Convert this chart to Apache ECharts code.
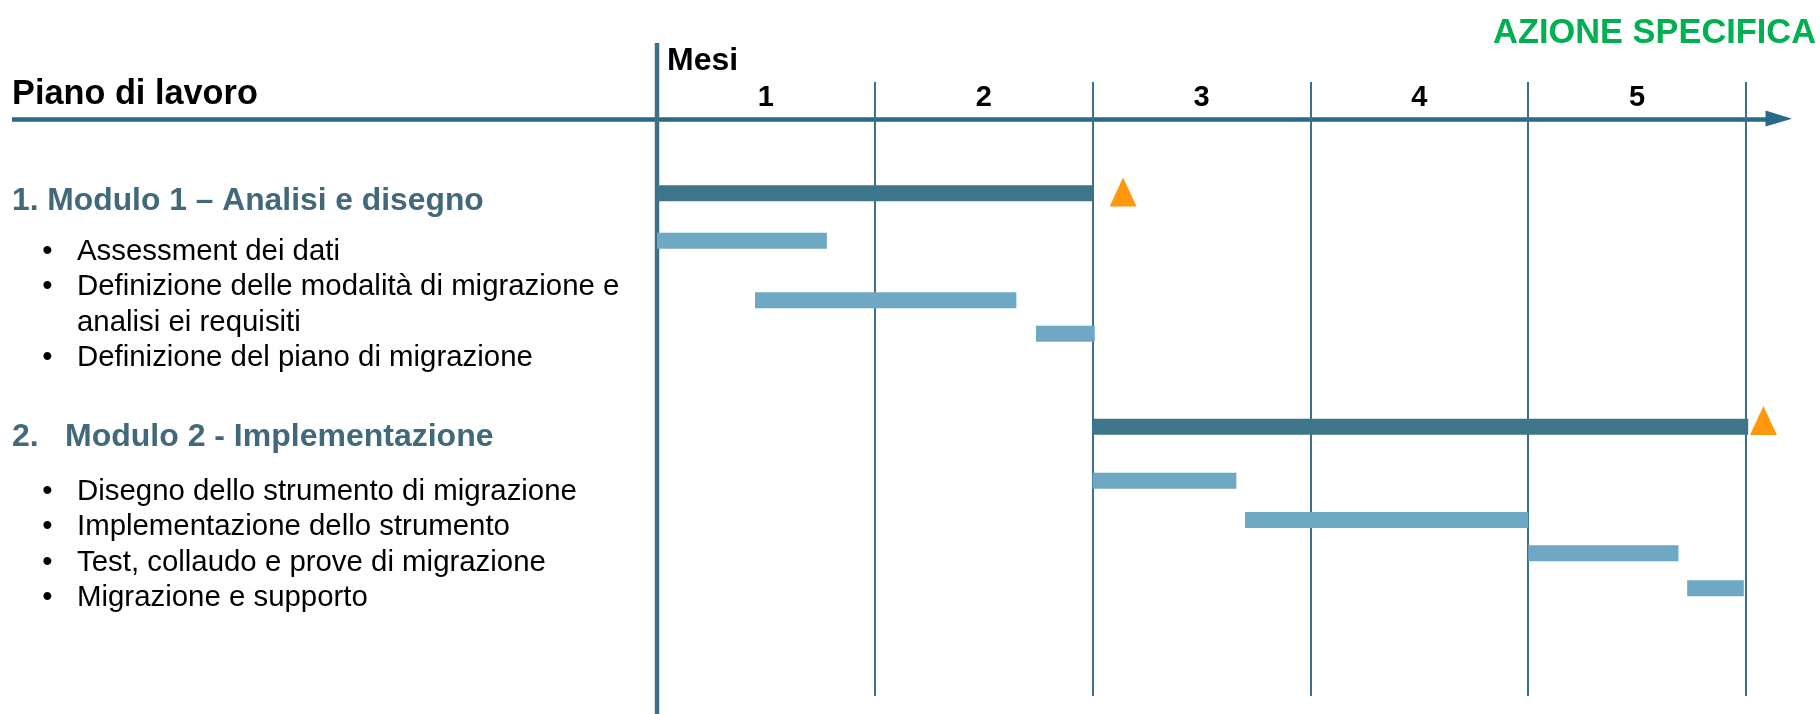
<!DOCTYPE html>
<html>
<head>
<meta charset="utf-8">
<title>Piano di lavoro</title>
<script src="https://cdn.jsdelivr.net/npm/echarts@6/dist/echarts.min.js"></script>
<style>
  html, body { margin: 0; padding: 0; background: #fff; }
  #chart { width: 1820px; height: 714px; }
</style>
</head>
<body>
<div id="chart"></div>
<script>
// mesi sull'asse orizzontale
const mesi = ['1', '2', '3', '4', '5'];

// barre: inizio e fine in mesi, riga sull'asse verticale (nascosto)
const nomiBarre = ['Modulo 1', 'Assessment dei dati', 'Definizione modalità', 'Definizione piano',
  'Modulo 2', 'Disegno strumento', 'Implementazione strumento', 'Test e collaudo', 'Migrazione e supporto'];
const inizio = [0, 0, 0.45, 1.74, 2.0, 2.0, 2.7, 4.0, 4.73];
const fine = [2.0, 0.78, 1.65, 2.01, 5.01, 2.66, 4.0, 4.69, 4.99];
const riga = [3.62, 5.17, 7.11, 8.2, 11.23, 12.99, 14.27, 15.35, 16.49];
const livello = [0, 1, 1, 1, 0, 1, 1, 1, 1]; // 0 = modulo, 1 = attività

// milestone (triangoli arancioni)
const milestoneMese = [2.14, 5.08];
const milestoneRiga = [3.58, 11.03];

// testi a sinistra
const titoloModulo1 = '1. Modulo 1 – Analisi e disegno';
const titoloModulo2 = 'Modulo 2 - Implementazione';
const attivitaModulo1 = ['Assessment dei dati', 'Definizione delle modalità di migrazione e\nanalisi ei requisiti',
  'Definizione del piano di migrazione'];
const attivitaModulo2 = ['Disegno dello strumento di migrazione', 'Implementazione dello strumento',
  'Test, collaudo e prove di migrazione', 'Migrazione e supporto'];

const FONT = "'Liberation Sans', Arial, sans-serif";
const LINEA = '#3b7088';
const RIGA_TESTO = 35.3;

const chart = echarts.init(document.getElementById('chart'));

function testo(str, x, y, size, weight, color, align) {
  return {
    type: 'text', x: x, y: y, silent: true,
    style: {
      text: str, fill: color, fontSize: size, fontWeight: weight, fontFamily: FONT,
      align: align || 'left', textAlign: align || 'left',
      verticalAlign: 'middle', textVerticalAlign: 'middle'
    }
  };
}

// elenco puntato, parte dalla baseline della prima riga
function elenco(voci, baseline) {
  const out = [];
  let top = baseline - 7.5 - RIGA_TESTO / 2;
  voci.forEach(v => {
    const righe = v.split('\n').length;
    out.push({
      type: 'text', x: 47.5, y: top, silent: true,
      style: { text: '•', fill: '#000', fontSize: 29.4, fontFamily: FONT, lineHeight: RIGA_TESTO,
        align: 'center', textAlign: 'center', verticalAlign: 'top', textVerticalAlign: 'top' }
    });
    out.push({
      type: 'text', x: 77, y: top, silent: true,
      style: { text: v, fill: '#000', fontSize: 29.4, fontFamily: FONT, lineHeight: RIGA_TESTO,
        align: 'left', textAlign: 'left', verticalAlign: 'top', textVerticalAlign: 'top' }
    });
    top += righe * RIGA_TESTO;
  });
  return out;
}

const grafica = [
  // asse con freccia
  { type: 'line', silent: true, shape: { x1: 12, y1: 119.5, x2: 1768, y2: 119.5 },
    style: { stroke: '#286a88', lineWidth: 4.5 } },
  { type: 'polygon', silent: true, shape: { points: [[1765.5, 110.5], [1792, 118.8], [1765.5, 126.5]] },
    style: { fill: '#286a88' } },
  // linea verticale iniziale
  { type: 'line', silent: true, shape: { x1: 657, y1: 43, x2: 657, y2: 714 },
    style: { stroke: LINEA, lineWidth: 4.5 } },
  testo('AZIONE SPECIFICA', 1816, 33.5, 34.4, 'bold', '#00b050', 'right'),
  testo('Piano di lavoro', 12, 94.7, 34.3, 'bold', '#000'),
  testo('Mesi', 667, 60.8, 32, 'bold', '#000'),
  testo(titoloModulo1, 12, 201.4, 31.8, 'bold', '#41697a'),
  testo('2.', 12, 437.4, 32, 'bold', '#41697a'),
  testo(titoloModulo2, 65, 437.4, 32, 'bold', '#41697a')
].concat(elenco(attivitaModulo1, 259.3), elenco(attivitaModulo2, 499.3));

const option = {
  animation: false,
  backgroundColor: '#fff',
  grid: { left: 657, right: 74, top: 82, bottom: 18 },
  xAxis: [
    {
      type: 'value', min: 0, max: 5, interval: 1, position: 'bottom',
      axisLine: { show: false }, axisTick: { show: false }, axisLabel: { show: false },
      splitLine: { show: true, lineStyle: { color: LINEA, width: 2 } }
    },
    {
      type: 'category', data: mesi, position: 'top', boundaryGap: true,
      axisLine: { show: false }, axisTick: { show: false }, splitLine: { show: false },
      axisLabel: {
        inside: true, margin: 15.5, verticalAlign: 'middle',
        fontSize: 29, fontWeight: 'bold', color: '#000', fontFamily: FONT
      }
    }
  ],
  yAxis: { type: 'value', inverse: true, min: 0, max: 20, show: false },
  graphic: { elements: grafica },
  series: [
    {
      name: 'Attività', type: 'custom', xAxisIndex: 0, clip: false,
      encode: { x: [0, 1], y: 2 },
      data: inizio.map((v, i) => [v, fine[i], riga[i], livello[i], nomiBarre[i]]),
      renderItem: function (params, api) {
        const a = api.coord([api.value(0), api.value(2)]);
        const b = api.coord([api.value(1), api.value(2)]);
        const h = 16;
        return {
          type: 'rect',
          shape: { x: a[0], y: a[1] - h / 2, width: b[0] - a[0], height: h },
          style: { fill: api.value(3) === 0 ? '#3d768b' : '#6ea8c2' }
        };
      }
    },
    {
      name: 'Milestone', type: 'scatter', xAxisIndex: 0, clip: false,
      symbol: 'triangle', symbolSize: [27, 29],
      itemStyle: { color: '#ff980e', opacity: 1 },
      data: milestoneMese.map((m, i) => [m, milestoneRiga[i]])
    }
  ]
};

chart.setOption(option);
</script>
</body>
</html>
